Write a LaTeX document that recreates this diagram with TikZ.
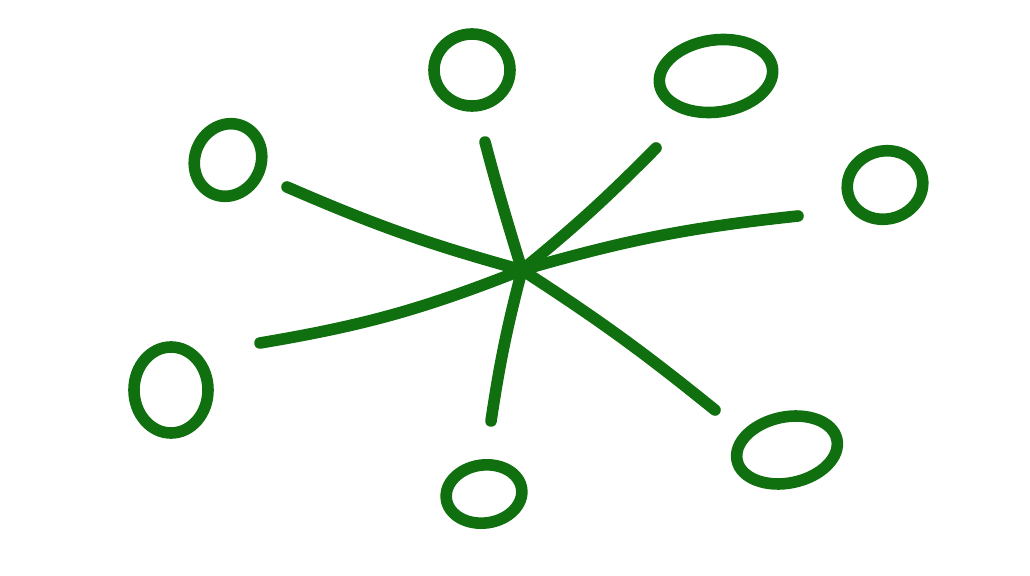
\documentclass[tikz,border=0pt]{standalone}
\definecolor{pen}{RGB}{16,112,16}
\tikzset{stroke/.style={draw=pen, line width=3.3pt, line cap=round, line join=round}}

\begin{document}
\begin{tikzpicture}[x=0.01cm, y=-0.01cm]
    \useasboundingbox (0,0) rectangle (1030,576);
    \coordinate (hub) at (522,270);
    \coordinate (ul) at (287,187);
    \coordinate (up) at (485,142);
    \coordinate (ur) at (656,148);
    \coordinate (rt) at (798,216);
    \coordinate (lr) at (715,410);
    \coordinate (dn) at (491,421);
    \coordinate (ll) at (260,343);
    % spokes
    \draw[stroke] (hub) to[bend left=4] (ul);
    \draw[stroke] (hub) .. controls (505,215) and (495,180) .. (up);
    \draw[stroke] (hub) to[bend right=3] (ur);
    \draw[stroke] (hub) to[bend left=5] (rt);
    \draw[stroke] (hub) to[bend left=3] (lr);
    \draw[stroke] (hub) to[bend right=3] (dn);
    \draw[stroke] (hub) to[bend left=6] (ll);
    % rings
    \draw[stroke] (472,70) circle [x radius=38, y radius=36];
    \draw[stroke] (716,76) circle [x radius=57, y radius=36, rotate=8];
    \draw[stroke] (228,160) circle [x radius=33, y radius=37, rotate=-25];
    \draw[stroke] (885,185) circle [x radius=38, y radius=34, rotate=15];
    \draw[stroke] (171,390) circle [x radius=37, y radius=43];
    \draw[stroke] (484,494) circle [x radius=38, y radius=29, rotate=8];
    \draw[stroke] (787,450) circle [x radius=51, y radius=33, rotate=12];
\end{tikzpicture}
\end{document}
